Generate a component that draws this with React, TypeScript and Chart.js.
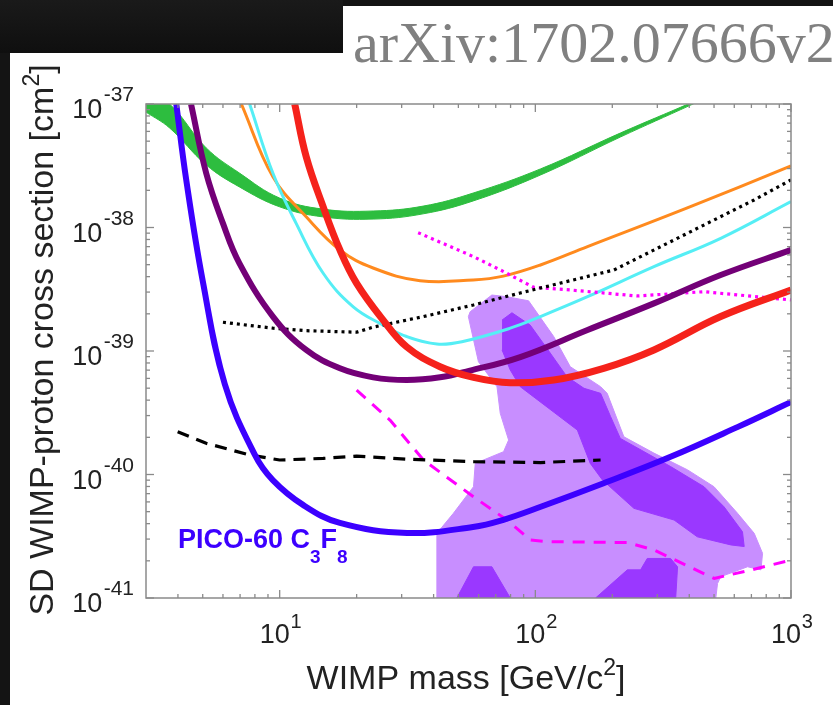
import React, { useEffect, useRef } from "react";
import { Chart, registerables } from "chart.js";

Chart.register(...registerables);

type P = [number, number];

// ---- axis ticks ----
const xMajorTicks = [10, 100, 1000];
const xTickExponents = ["1", "2", "3"];
const xMinorTicks = [4, 5, 6, 7, 8, 9, 20, 30, 40, 50, 60, 70, 80, 90, 200, 300, 400, 500, 600, 700, 800, 900];
const yMajorTicks = [1e-41, 1e-40, 1e-39, 1e-38, 1e-37];
const yTickExponents = ["-41", "-40", "-39", "-38", "-37"];
const yMinorTicks = [
  2e-41, 3e-41, 4e-41, 5e-41, 6e-41, 7e-41, 8e-41, 9e-41,
  2e-40, 3e-40, 4e-40, 5e-40, 6e-40, 7e-40, 8e-40, 9e-40,
  2e-39, 3e-39, 4e-39, 5e-39, 6e-39, 7e-39, 8e-39, 9e-39,
  2e-38, 3e-38, 4e-38, 5e-38, 6e-38, 7e-38, 8e-38, 9e-38,
];

// ---- series: [WIMP mass GeV/c^2, cross section cm^2] ----
const picoC3F8: P[] = [[3.94, 1e-37], [4.31, 2.43e-38], [5.0, 3.7e-39], [6.1, 5.4e-40], [8.0, 1.44e-40], [9.4, 9.0e-41], [12.3, 5.7e-41], [17.2, 4.05e-41], [31.5, 3.36e-41], [57, 3.76e-41], [75, 4.3e-41], [105, 5.48e-41], [185, 8.5e-41], [338, 1.39e-40], [620, 2.43e-40], [1000, 3.86e-40]];
const picoCF3I: P[] = [[11.45, 1e-37], [12.7, 3.74e-38], [14.8, 1.47e-38], [17.2, 6.58e-39], [20.0, 3.53e-39], [25.4, 1.78e-39], [31.4, 1.08e-39], [42.4, 7.46e-40], [57.3, 6.12e-40], [79.8, 5.54e-40], [118, 5.82e-40], [185, 7.24e-40], [291, 1.02e-39], [531, 1.9e-39], [1000, 3.12e-39]];
const pico2L: P[] = [[4.5, 1e-37], [5.16, 2.75e-38], [6.0, 1.08e-38], [6.96, 5.13e-39], [9.41, 1.9e-39], [12.7, 1.02e-39], [17.2, 7.24e-40], [23.2, 6.12e-40], [31.4, 5.82e-40], [42.4, 6.12e-40], [55, 6.9e-40], [87.3, 8.93e-40], [160, 1.48e-39], [291, 2.43e-39], [531, 4.12e-39], [1000, 6.58e-39]];
const picassoUpper: P[] = [[3.0, 1.25e-37], [3.71, 1e-37], [5.16, 4.41e-38], [6.96, 2.76e-38], [10, 1.73e-38], [14.7, 1.41e-38], [23.2, 1.36e-38], [36.4, 1.49e-38], [57.1, 1.9e-38], [104.7, 2.98e-38], [215, 5.82e-38], [405, 1.02e-37], [464, 1.16e-37]];
const picassoLower: P[] = [[3.0, 8.6e-38], [3.71, 6.4e-38], [5.16, 3.21e-38], [6.96, 2.13e-38], [10, 1.47e-38], [14.7, 1.22e-38], [23.2, 1.17e-38], [36.4, 1.29e-38], [57.1, 1.64e-38], [104.7, 2.66e-38], [215, 5.4e-38], [405, 9.8e-38], [464, 1.12e-37]];
const simple: P[] = [[7.08, 1e-37], [9.41, 2.57e-38], [12.7, 1.22e-38], [17.2, 6.58e-39], [23.2, 4.7e-39], [35.4, 3.71e-39], [57.1, 3.76e-39], [75, 4.04e-39], [104.7, 4.97e-39], [160, 7.0e-39], [393, 1.44e-38], [1000, 3.15e-38]];
const pandax: P[] = [[7.63, 1e-37], [9.41, 2.75e-38], [11.6, 1.08e-38], [14.8, 4.26e-39], [19.4, 2.28e-39], [25.4, 1.62e-39], [31.4, 1.31e-39], [41.2, 1.14e-39], [51.6, 1.19e-39], [79.8, 1.53e-39], [104.7, 1.9e-39], [160, 2.75e-39], [291, 4.82e-39], [531, 8.18e-39], [1000, 1.62e-38]];
const lux: P[] = [[6.0, 1.71e-39], [9.41, 1.53e-39], [12.7, 1.46e-39], [20.0, 1.42e-39], [23.2, 1.56e-39], [36.5, 1.9e-39], [57.3, 2.36e-39], [87.3, 2.95e-39], [203, 4.53e-39], [393, 8.97e-39], [717, 1.67e-38], [1000, 2.43e-38]];
const iceCubeDotted: P[] = [[34.8, 9.08e-39], [57.3, 5.81e-39], [75.2, 4.39e-39], [98.4, 3.28e-39], [137, 3.12e-39], [250, 2.79e-39], [457, 3.02e-39], [1000, 2.59e-39]];
const superKDashed: P[] = [[3.99, 2.22e-40], [5.16, 1.79e-40], [7.63, 1.44e-40], [10, 1.31e-40], [14.8, 1.35e-40], [20, 1.41e-40], [31.4, 1.33e-40], [57.3, 1.27e-40], [104.7, 1.25e-40], [180, 1.31e-40]];
const iceCubeDashed: P[] = [[20, 4.83e-40], [27, 2.76e-40], [36.5, 1.31e-40], [57.3, 6.6e-41], [77.4, 4.28e-41], [95.5, 2.95e-41], [111, 2.86e-41], [229, 2.81e-41], [291, 2.45e-41], [500, 1.44e-41], [717, 1.71e-41], [1000, 2.03e-41]];

// ---- regions (closed outlines) ----
const damaOuter: P[] = [[41.2, 1e-41], [41.2, 3.34e-41], [47.8, 4.85e-41], [57.3, 7.96e-41], [58.2, 1.23e-40], [75.1, 1.53e-40], [78.6, 1.9e-40], [72.9, 3.13e-40], [70.8, 5.14e-40], [59.9, 8.19e-40], [54.7, 1.9e-39], [55.6, 2.08e-39], [67.6, 2.84e-39], [77.4, 2.75e-39], [94.1, 2.55e-39], [118, 1.31e-39], [137, 7.46e-40], [180, 5.14e-40], [191, 4.54e-40], [222, 2.02e-40], [291, 1.49e-40], [394, 1.09e-40], [500, 7.96e-41], [618, 4.85e-41], [718, 3.34e-41], [774, 2.3e-41], [763, 1.69e-41], [676, 1.79e-41], [599, 1.63e-41], [531, 1.49e-41], [516, 1.31e-41], [508, 1e-41]];
const damaInner: P[] = [[74.1, 1.78e-39], [81.0, 2.04e-39], [95.5, 1.62e-39], [111, 1.05e-39], [133, 6.19e-40], [155, 4.99e-40], [180, 4.54e-40], [197, 2.94e-40], [215, 1.96e-40], [338, 1.16e-40], [457, 7.96e-41], [547, 5.48e-41], [646, 3.44e-41], [656, 2.61e-41], [582, 2.69e-41], [430, 3.13e-41], [349, 4.28e-41], [243, 5.32e-41], [183, 9.02e-41], [164, 1.23e-40], [146, 2.29e-40], [87.3, 5.14e-40], [79.8, 7.01e-40], [74.1, 1.02e-39]];
const damaBlobA: P[] = [[49.3, 1e-41], [57.3, 1.79e-41], [67.6, 1.79e-41], [79.8, 1e-41]];
const damaBlobB: P[] = [[172, 1e-41], [229, 1.69e-41], [258, 1.69e-41], [274, 2.09e-41], [338, 2.09e-41], [360, 1.79e-41], [354, 1e-41]];

const FONT = '"Liberation Sans", Arial, Helvetica, sans-serif';
const TEXT = "#222222";
const AXIS = "#8a8a8a";

const xy = (a: P[]) => a.map(([x, y]) => ({ x, y }));

type Part = { t: string; size: number; dy?: number; bold?: boolean };

function drawParts(ctx: CanvasRenderingContext2D, parts: Part[], x: number, y: number, align: "left" | "center" | "right") {
  const f = (p: Part) => `${p.bold ? "bold " : ""}${p.size}px ${FONT}`;
  let total = 0;
  const widths = parts.map((p) => {
    ctx.font = f(p);
    const w = ctx.measureText(p.t).width;
    total += w;
    return w;
  });
  let cx = align === "left" ? x : align === "center" ? x - total / 2 : x - total;
  ctx.textAlign = "left";
  ctx.textBaseline = "alphabetic";
  parts.forEach((p, i) => {
    ctx.font = f(p);
    ctx.fillText(p.t, cx, y + (p.dy || 0));
    cx += widths[i];
  });
}

const framePlugin = {
  id: "frame",
  afterDatasetsDraw(chart: any) {
    const { ctx, chartArea: a } = chart;
    const xs = chart.scales.x;
    const ys = chart.scales.y;
    ctx.save();
    ctx.strokeStyle = AXIS;
    ctx.lineWidth = 1.3;
    const seg = (x1: number, y1: number, x2: number, y2: number) => {
      ctx.beginPath();
      ctx.moveTo(x1, y1);
      ctx.lineTo(x2, y2);
      ctx.stroke();
    };
    const xt = (v: number, len: number) => {
      const px = xs.getPixelForValue(v);
      seg(px, a.bottom, px, a.bottom - len);
      seg(px, a.top, px, a.top + len);
    };
    const yt = (v: number, len: number) => {
      const py = ys.getPixelForValue(v);
      seg(a.left, py, a.left + len, py);
      seg(a.right, py, a.right - len, py);
    };
    xMinorTicks.forEach((v) => xt(v, 4));
    xMajorTicks.forEach((v) => xt(v, 8));
    yMinorTicks.forEach((v) => yt(v, 4));
    yMajorTicks.forEach((v) => yt(v, 8));
    ctx.lineWidth = 1.5;
    ctx.strokeRect(a.left, a.top, a.right - a.left, a.bottom - a.top);

    ctx.fillStyle = TEXT;
    // x tick labels
    xMajorTicks.forEach((v, i) => {
      const px = xs.getPixelForValue(v);
      drawParts(ctx, [{ t: "10", size: 27 }, { t: " ", size: 3 }, { t: xTickExponents[i], size: 20, dy: -15 }], px + 1, 643, "center");
    });
    // y tick labels
    yMajorTicks.forEach((v, i) => {
      const py = ys.getPixelForValue(v);
      drawParts(ctx, [{ t: "10", size: 27 }, { t: " ", size: 5 }, { t: yTickExponents[i], size: 21, dy: -17 }], 134, py + 14, "right");
    });
    // axis titles
    drawParts(ctx, [{ t: "WIMP mass [GeV/c", size: 34 }, { t: "2", size: 23, dy: -14 }, { t: "]", size: 34 }], 466, 689, "center");
    ctx.save();
    ctx.translate(53, 340);
    ctx.rotate(-Math.PI / 2);
    drawParts(ctx, [{ t: "SD WIMP-proton cross section [cm", size: 34 }, { t: "2", size: 23, dy: -14 }, { t: "]", size: 34 }], 0, 0, "center");
    ctx.restore();
    // annotation
    ctx.fillStyle = "#3c00ff";
    drawParts(ctx, [
      { t: "PICO-60 C", size: 27, bold: true },
      { t: "3", size: 19, bold: true, dy: 15 },
      { t: "F", size: 27, bold: true },
      { t: "8", size: 19, bold: true, dy: 15 },
    ], 178, 548, "left");
    ctx.restore();
  },
};

const line = (data: P[], color: string, width: number, order: number, extra: any = {}) => ({
  data: xy(data),
  showLine: true,
  borderColor: color,
  backgroundColor: color,
  borderWidth: width,
  fill: false,
  order,
  clip: 0,
  tension: 0.4,
  borderCapStyle: "butt",
  borderJoinStyle: "round",
  ...extra,
});

const region = (data: P[], color: string, order: number) => ({
  data: xy(data),
  showLine: true,
  borderColor: color,
  backgroundColor: color,
  borderWidth: 1,
  fill: "shape",
  tension: 0,
  order,
  clip: 0,
});

export default function App() {
  const ref = useRef<HTMLCanvasElement>(null);
  useEffect(() => {
    const green = "#2dbd3f";
    const chart = new Chart(ref.current as HTMLCanvasElement, {
      type: "scatter",
      data: {
        datasets: [
          region(damaOuter, "#c88eff", 30),
          region(damaInner, "#9a38ff", 29),
          region(damaBlobA, "#9a38ff", 29),
          region(damaBlobB, "#9a38ff", 29),
          line(picassoUpper, green, 1, 20),
          line(picassoLower, green, 1, 20, { fill: "-1", backgroundColor: green }),
          line(simple, "#ff8a1e", 3, 12),
          line(pandax, "#55eef5", 3, 11),
          line(lux, "#000000", 3.2, 10, { borderDash: [3, 4], tension: 0 }),
          line(iceCubeDotted, "#ff00ff", 3.2, 10, { borderDash: [3, 4], tension: 0 }),
          line(superKDashed, "#000000", 3.2, 9, { borderDash: [12, 8], tension: 0 }),
          line(iceCubeDashed, "#ff00ff", 3, 9, { borderDash: [12, 9], tension: 0 }),
          line(pico2L, "#730077", 6, 6),
          line(picoCF3I, "#f5221b", 7, 5),
          line(picoC3F8, "#3c00ff", 6, 4),
        ] as any,
      },
      options: {
        responsive: false,
        animation: false,
        devicePixelRatio: 1,
        events: [],
        layout: { padding: { left: 146, top: 104, right: 42, bottom: 107 } },
        plugins: { legend: { display: false }, tooltip: { enabled: false } },
        elements: { point: { radius: 0, hoverRadius: 0, hitRadius: 0 } },
        scales: {
          x: { type: "logarithmic", min: 3, max: 1000, display: false },
          y: { type: "logarithmic", min: 1e-41, max: 1e-37, display: false },
        },
      } as any,
      plugins: [framePlugin],
    });
    return () => chart.destroy();
  }, []);

  return (
    <div style={{ position: "absolute", left: 0, top: 0, width: 833, height: 705, background: "#141414", overflow: "hidden" }}>
      <div style={{ position: "absolute", left: 0, top: 0, width: 343, height: 53, background: "linear-gradient(#1a1a1a, #0f0f0f)" }} />
      <div style={{ position: "absolute", left: 10, top: 53, width: 823, height: 652, background: "#ffffff" }} />
      <div style={{ position: "absolute", left: 343, top: 6, width: 490, height: 60, background: "#ffffff" }} />
      <div
        style={{
          position: "absolute",
          left: 353,
          top: 14,
          fontFamily: '"Liberation Serif", "Times New Roman", serif',
          fontSize: 58,
          lineHeight: "58px",
          color: "#808080",
          whiteSpace: "nowrap",
        }}
      >
        arXiv:1702.07666v2
      </div>
      <canvas ref={ref} width={833} height={705} style={{ position: "absolute", left: 0, top: 0 }} />
    </div>
  );
}
